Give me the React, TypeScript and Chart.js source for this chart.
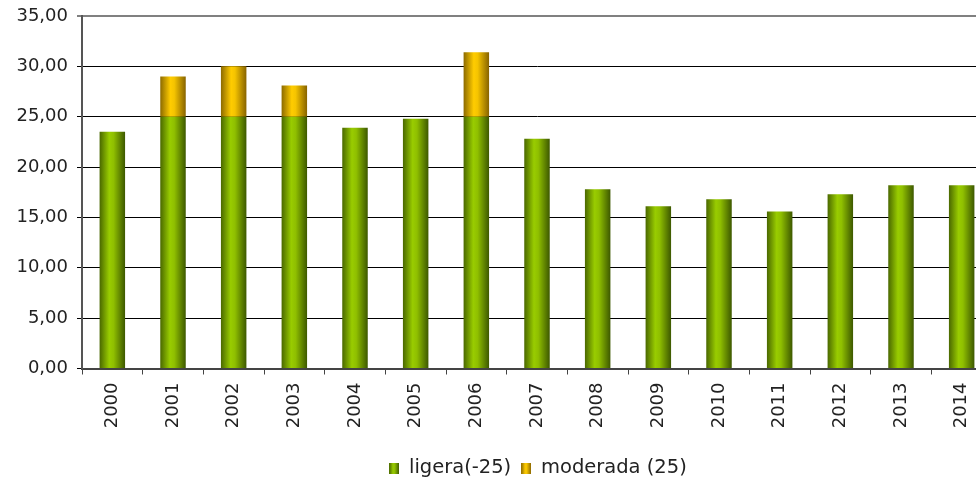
import React, { useEffect, useRef } from "react";
import { Chart, registerables } from "chart.js";

Chart.register(...registerables);

const years = ["2000","2001","2002","2003","2004","2005","2006","2007","2008","2009","2010","2011","2012","2013","2014"];
const ligera = [23.5, 25, 25, 25, 23.9, 24.8, 25, 22.8, 17.8, 16.1, 16.8, 15.6, 17.3, 18.2, 18.2];
const moderada = [0, 4.0, 5.0, 3.1, 0, 0, 6.4, 0, 0, 0, 0, 0, 0, 0, 0];
const yTicks = [0, 5, 10, 15, 20, 25, 30, 35];

const BAR_PCT = 0.42;
const FONT = "'DejaVu Sans', Verdana, sans-serif";
const FS = 18;
const LEGEND_FS = 19.5;

const greenStops: [number, string][] = [[0, "#4a6800"], [0.38, "#99cc00"], [0.55, "#8fbf00"], [1, "#3d5800"]];
const orangeStops: [number, string][] = [[0, "#8c6a00"], [0.4, "#ffcc00"], [0.55, "#f5c400"], [1, "#876300"]];

function makeGradient(ctx: any, stops: [number, string][]) {
  const chart = ctx.chart;
  const xs = chart.scales && chart.scales.x;
  if (!xs || !chart.chartArea || ctx.dataIndex === undefined) return stops[1][1];
  const cx = xs.getPixelForValue(ctx.dataIndex);
  const w = (xs.width / years.length) * BAR_PCT;
  const g = chart.ctx.createLinearGradient(cx - w / 2, 0, cx + w / 2, 0);
  stops.forEach(([o, c]) => g.addColorStop(o, c));
  return g;
}

function legendImage(stops: [number, string][]) {
  const c = document.createElement("canvas");
  c.width = 10;
  c.height = 11;
  const cctx = c.getContext("2d")!;
  const g = cctx.createLinearGradient(0, 0, 10, 0);
  stops.forEach(([o, col]) => g.addColorStop(o, col));
  cctx.fillStyle = g;
  cctx.fillRect(0, 0, 10, 11);
  return c;
}

const legendShift = {
  id: "legendShift",
  afterLayout(chart: any) {
    if (chart.legend) chart.legend.left += 84;
  },
};

export default function App() {
  const ref = useRef<HTMLCanvasElement>(null);
  useEffect(() => {
    if (!ref.current) return;
    const chart = new Chart(ref.current, {
      type: "bar",
      data: {
        labels: years,
        datasets: [
          {
            label: "ligera(-25)",
            data: ligera,
            backgroundColor: (c: any) => makeGradient(c, greenStops),
            pointStyle: legendImage(greenStops) as any,
            barPercentage: BAR_PCT,
            categoryPercentage: 1,
          },
          {
            label: "moderada (25)",
            data: moderada,
            backgroundColor: (c: any) => makeGradient(c, orangeStops),
            pointStyle: legendImage(orangeStops) as any,
            barPercentage: BAR_PCT,
            categoryPercentage: 1,
          },
        ],
      },
      plugins: [legendShift],
      options: {
        animation: false,
        responsive: true,
        maintainAspectRatio: false,
        layout: { padding: { left: 0, right: 0, top: 16, bottom: 0 } },
        plugins: {
          tooltip: { enabled: false },
          legend: {
            position: "bottom",
            labels: {
              usePointStyle: true,
              boxWidth: 10,
              boxHeight: 11,
              padding: 10,
              color: "#222",
              font: { family: FONT, size: LEGEND_FS },
            },
          },
        },
        scales: {
          x: {
            stacked: true,
            offset: true,
            grid: { drawOnChartArea: false, drawTicks: true, tickLength: 6, offset: true, color: "#444", lineWidth: 1 },
            border: { color: "#444", width: 2 },
            ticks: {
              minRotation: 90,
              maxRotation: 90,
              padding: 8,
              color: "#222",
              font: { family: FONT, size: FS },
            },
            afterFit: (s: any) => { s.height = 80; },
          },
          y: {
            stacked: true,
            min: 0,
            max: 35,
            afterBuildTicks: (s: any) => { s.ticks = yTicks.map((v) => ({ value: v })); },
            grid: {
              color: (c: any) => (c.tick && c.tick.value === 35 ? "#808080" : "#000"),
              lineWidth: (c: any) => (c.tick && c.tick.value === 35 ? 2 : 1),
              tickLength: 5,
            },
            border: { color: "#555", width: 2 },
            ticks: {
              padding: 9,
              color: "#222",
              font: { family: FONT, size: FS },
              callback: (v: any) => Number(v).toFixed(2).replace(".", ","),
            },
            afterFit: (s: any) => { s.width = 82; s.paddingTop = 0; s.paddingBottom = 0; },
          },
        },
      },
    });
    return () => chart.destroy();
  }, []);
  return (
    <div style={{ position: "fixed", left: 0, top: 0, width: 976, height: 481, overflow: "hidden", background: "#fff" }}>
      <div style={{ position: "relative", width: 992, height: 488 }}>
        <canvas ref={ref} />
      </div>
    </div>
  );
}
